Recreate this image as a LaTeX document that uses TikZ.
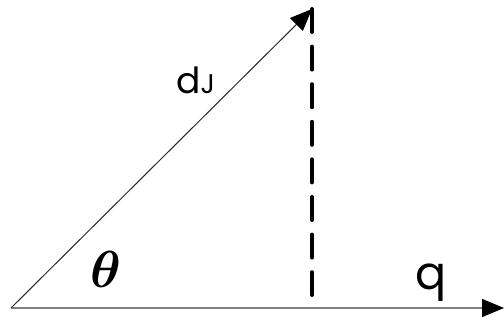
\documentclass[tikz,border=0pt]{standalone}
\usepackage{fontspec}
\usepackage{bm}
\usepackage{graphicx}
\usepackage{tikz}
\newfontfamily\labelfont{Poppins}
\usetikzlibrary{arrows.meta, positioning}

\begin{document}
\begin{tikzpicture}[
    x=1pt, y=-1pt,
    vector/.style={-{Triangle[length=22pt, width=18pt, color=black]}},
    proj/.style={line width=4pt, line cap=round, dash pattern=on 23pt off 14.6pt},
    label/.style={inner sep=0pt, font=\labelfont\fontsize{36}{36}\selectfont}
]
    \useasboundingbox (0, 0) rectangle (504, 320);

    % Points
    \coordinate (O) at (11, 308);
    \coordinate (qend) at (504, 308);
    \coordinate (dtip) at (312, 9);
    \coordinate (foot) at (312, 295);

    % Vectors
    \draw[vector, line width=1.5pt, black!50] (O) -- (qend);
    \draw[vector, line width=1pt, black!85] (O) -- (dtip);

    % Projection
    \draw[proj] (dtip) -- (foot);

    % Labels
    \node[label, anchor=base west] (dJ) at (176, 94) {d\fontsize{27}{27}\selectfont J};
    \node[label, anchor=base west, font=\labelfont\fontsize{46}{46}\selectfont] (q) at (415, 290) {q};
    \node[inner sep=0pt, anchor=base west] (theta) at (90, 288) {\scalebox{5.2}{$\bm{\theta}$}};
\end{tikzpicture}
\end{document}
